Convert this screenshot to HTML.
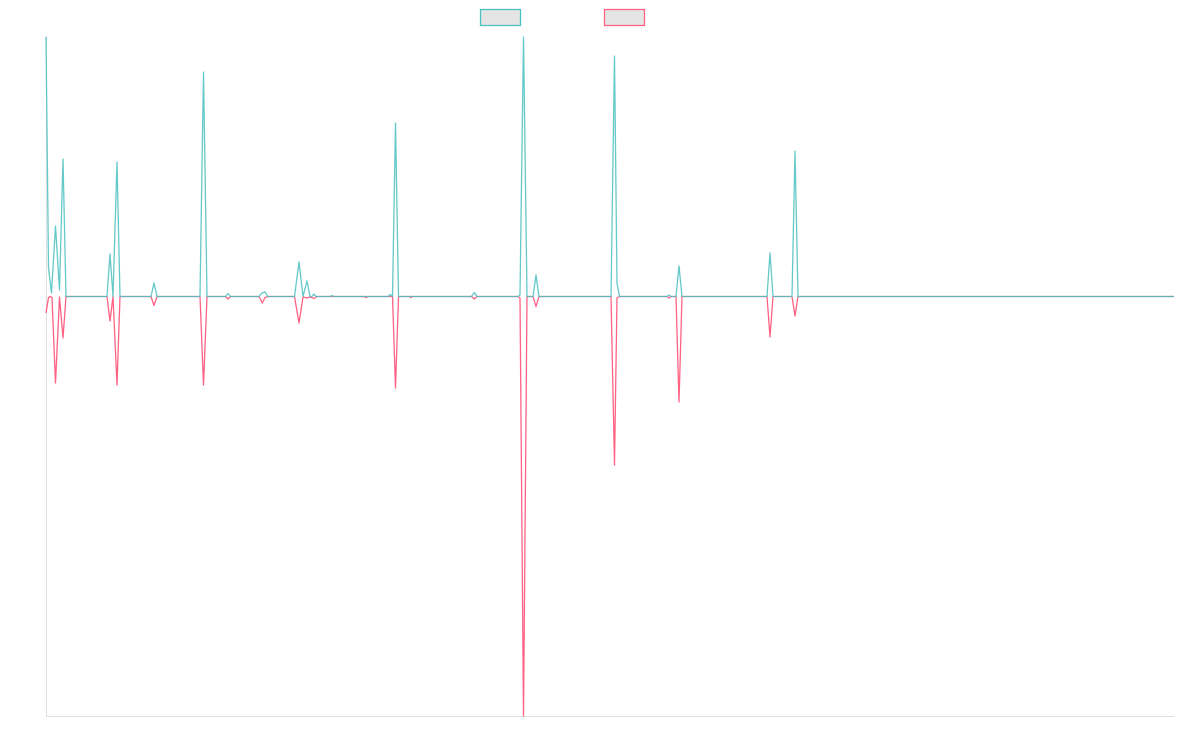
<!DOCTYPE html>
<html>
<head>
<meta charset="utf-8">
<style>
  html, body { margin: 0; padding: 0; background: #ffffff; }
  body { width: 1200px; height: 750px; overflow: hidden; font-family: "Liberation Sans", sans-serif; }
  svg { display: block; }
</style>
</head>
<body>
<svg width="1200" height="750" viewBox="0 0 1200 750" xmlns="http://www.w3.org/2000/svg">
  <rect x="0" y="0" width="1200" height="750" fill="#ffffff"/>
  <!-- legend -->
  <rect x="480.5" y="9.5" width="40" height="16" fill="#e5e5e5" stroke="rgb(75,192,192)" stroke-width="1.3"/>
  <rect x="604.5" y="9.5" width="40" height="16" fill="#e5e5e5" stroke="rgb(255,99,132)" stroke-width="1.3"/>
  <!-- axes -->
  <line x1="46.5" y1="36" x2="46.5" y2="716.5" stroke="#e0e0e0" stroke-width="1"/>
  <line x1="46" y1="716.5" x2="1174" y2="716.5" stroke="#e0e0e0" stroke-width="1"/>
  <!-- pink series -->
  <polyline fill="none" stroke="rgb(255,99,132)" stroke-width="1.3" stroke-linejoin="round"
    points="46,313 48.5,297.5 50.5,296.5 52,297.5 55.5,383 59.5,297 63,338 66,296.5 107,296.5 110,321 113,296.5 117,385 120,296.5 151,296.5 154,305.5 157,296.5 200,296.5 203.5,385 207,296.5 225.5,296.5 228,299 230.5,296.5 259,296.5 262.3,303 265,297.5 268,296.5 294.5,296.5 299,323 303,297 307,298 310,297 314,298.5 317,296.5 364,296.5 366,297.5 368,296.5 392.5,296.5 395.5,388 398.5,296.5 409,296.5 410.7,297.5 412.5,296.5 471.5,296.5 474.3,299 477,296.5 518,296.5 520,298 523.5,716 527,296.5 533,296.5 536,306.5 539,296.5 611,296.5 614.5,465 617,298 619.5,296.5 667,296.5 669,298 671,296.5 676,296.5 679,402 682,296.5 767,296.5 770,337 773,296.5 792,296.5 795,316 798,296.5 1174,296.5"/>
  <!-- teal series -->
  <polyline fill="none" stroke="rgb(75,192,192)" stroke-opacity="0.85" stroke-width="1.3" stroke-linejoin="round"
    points="46,37 48.5,268 51.5,293 55.5,226 59.5,290 63,159 66,296.5 107,296.5 110,254 113,296.5 117,162 120,296.5 151,296.5 154,283 157,296.5 200,296.5 203.5,72 207,296.5 225.5,296.5 228,293.5 230.5,296.5 259,296.5 262,293 265,292 268,296.5 294.5,296.5 299,262 303,296.5 307,281 310,296.5 312,296.5 314,294 316,296.5 330,296.5 331.7,295.5 333.5,296.5 388,296.5 390.5,294.5 392.5,296.5 395.5,123 398.5,296.5 471.5,296.5 474.3,292.5 477,296.5 518,296.5 520,295 523.5,37 527,296.5 533,296.5 536,275 539,296.5 611,296.5 614.5,56 617,283 619.5,296.5 667,296.5 669,295 671,296.5 676,296.5 679,266 682,296.5 767,296.5 770,253 773,296.5 792,296.5 795,151 798,296.5 1174,296.5"/>
</svg>
</body>
</html>
